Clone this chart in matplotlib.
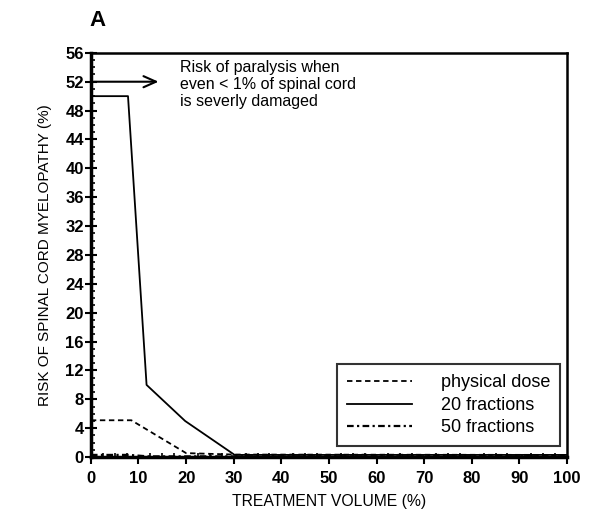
import numpy as np
import matplotlib
matplotlib.use('Agg')
import matplotlib.pyplot as plt
from matplotlib.ticker import MultipleLocator

plt.rcParams['font.family'] = ['Liberation Sans', 'DejaVu Sans']

# ── 데이터 ──
vol_phys = [0, 8.5, 20, 30, 100]
risk_phys = [5.1, 5.1, 0.55, 0.35, 0.3]

vol_20 = [0, 7.8, 11.7, 19.8, 30.2, 100]
risk_20 = [50, 50, 10, 5, 0.3, 0.3]

vol_50 = [0, 8, 12, 100]
risk_50 = [0.3, 0.3, 0.1, 0.1]

arrow_y = 52
note = 'Risk of paralysis when\neven < 1% of spinal cord\nis severly damaged'

fig = plt.figure(figsize=(5.9, 5.13), dpi=100)
ax = fig.add_axes([0.154, 0.109, 0.807, 0.788])

ax.plot(vol_phys, risk_phys, color='k', lw=1.3, ls=(0, (3, 2)), label='physical dose')
ax.plot(vol_20, risk_20, color='k', lw=1.3, ls='-', label='20 fractions')
ax.plot(vol_50, risk_50, color='k', lw=1.6, ls=(0, (3, 1.5, 1, 1.5)), label='50 fractions')

ax.set_xlim(0, 100)
ax.set_ylim(0, 56)
ax.xaxis.set_major_locator(MultipleLocator(10))
ax.xaxis.set_minor_locator(MultipleLocator(2.5))
ax.yaxis.set_major_locator(MultipleLocator(4))
ax.yaxis.set_minor_locator(MultipleLocator(1))
ax.tick_params(axis='x', which='major', direction='out', length=5, width=1.5,
               labelsize=12, pad=5)
ax.tick_params(axis='x', which='minor', direction='in', length=3, width=1.2)
ax.tick_params(axis='y', which='major', direction='inout', length=8, width=1.5,
               labelsize=12, pad=1)
ax.tick_params(axis='y', which='minor', direction='in', length=3, width=1.2)
for lab in ax.get_xticklabels() + ax.get_yticklabels():
    lab.set_fontweight('bold')

for side in ['left', 'bottom']:
    ax.spines[side].set_linewidth(2.5)
for side in ['top', 'right']:
    ax.spines[side].set_linewidth(1.8)

ax.annotate('', xy=(14.8, arrow_y), xytext=(0, arrow_y),
            arrowprops=dict(arrowstyle='->,head_length=0.9,head_width=0.4',
                            color='k', lw=1.5))
ax.text(18.7, 55.0, note, fontsize=11.5, va='top', ha='left', linespacing=1.15)

ax.set_xlabel('TREATMENT VOLUME (%)', fontsize=11.3, labelpad=6)
ax.set_ylabel('RISK OF SPINAL CORD MYELOPATHY (%)', fontsize=11, labelpad=10)

leg = ax.legend(loc='lower right', bbox_to_anchor=(0.985, 0.027), borderaxespad=0,
                fontsize=13, frameon=True, fancybox=False, edgecolor='k',
                handlelength=3.6, borderpad=0.55, labelspacing=0.3,
                handletextpad=1.6)
leg.get_frame().set_linewidth(1.5)

fig.text(0.152, 0.96, 'A', fontsize=16, fontweight='bold', ha='left', va='center')

fig.savefig('out.png', dpi=100)
